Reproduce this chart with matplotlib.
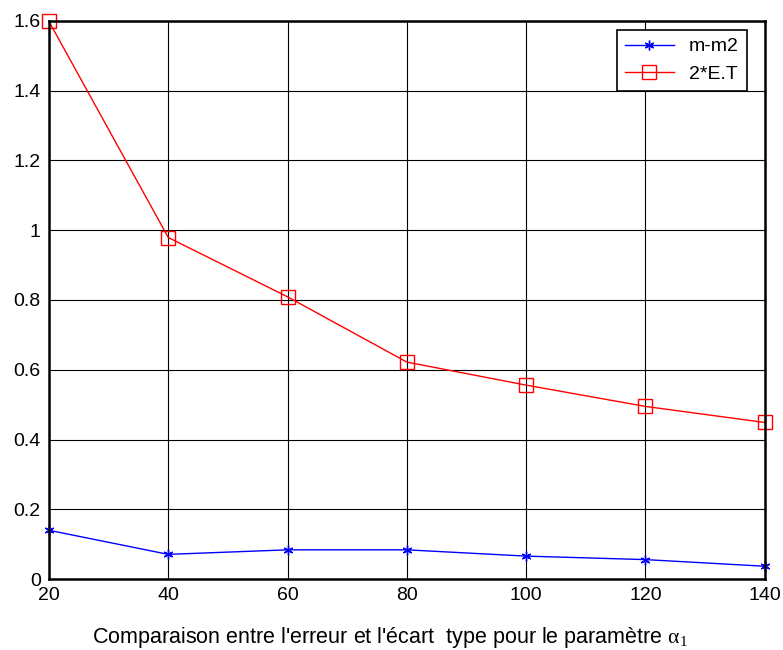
import matplotlib
matplotlib.use('Agg')
import matplotlib.pyplot as plt

plt.rcParams['font.family'] = ['Liberation Sans', 'DejaVu Sans']
plt.rcParams['mathtext.fontset'] = 'custom'
plt.rcParams['mathtext.rm'] = 'Liberation Serif'
plt.rcParams['mathtext.it'] = 'Liberation Serif'
plt.rcParams['mathtext.default'] = 'rm'

# data
alpha_vals = [20, 40, 60, 80, 100, 120, 140]
m_m2 = [0.140, 0.071, 0.084, 0.084, 0.066, 0.056, 0.037]
deux_et = [1.598, 0.979, 0.809, 0.622, 0.556, 0.495, 0.449]
x_ticks = [20, 40, 60, 80, 100, 120, 140]
y_ticks = [0, 0.2, 0.4, 0.6, 0.8, 1, 1.2, 1.4, 1.6]
y_tick_labels = ['0', '0.2', '0.4', '0.6', '0.8', '1', '1.2', '1.4', '1.6']

fig = plt.figure(figsize=(7.83, 6.5), dpi=100)
ax = fig.add_axes([0.0626, 0.109, 0.914, 0.859])

ax.plot(alpha_vals, m_m2, color='blue', lw=1, marker=(6, 2, 0), ms=7,
        label='m-m2')
ax.plot(alpha_vals, deux_et, color='red', lw=1, marker='s', ms=10,
        mfc='none', mec='red', mew=1, label='2*E.T')

ax.set_xlim(20, 140)
ax.set_ylim(0, 1.6)
ax.set_xticks(x_ticks)
ax.set_yticks(y_ticks)
ax.set_yticklabels(y_tick_labels)
ax.tick_params(direction='in', labelsize=14, length=0, pad=6)
ax.grid(True, color='black', lw=0.8, ls='-')
for s in ax.spines.values():
    s.set_linewidth(1.8)
for ln in ax.lines:
    ln.set_clip_on(False)

ax.set_xlabel("Comparaison entre l'erreur et l'écart  type pour le paramètre $\\alpha_1$",
              fontsize=15.5)
ax.xaxis.set_label_coords(0.476, -0.083)

leg = ax.legend(loc='upper right', fontsize=14, fancybox=False, framealpha=1,
                edgecolor='black', borderaxespad=0, handlelength=2.5,
                bbox_to_anchor=(0.975, 0.9835))
leg.get_frame().set_linewidth(1.2)

fig.savefig('out.png', dpi=100)
